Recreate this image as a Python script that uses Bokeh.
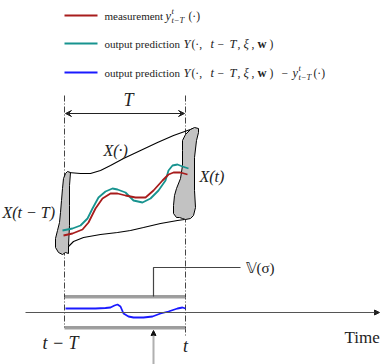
from bokeh.plotting import figure
from bokeh.models import Arrow, VeeHead, NormalHead
from bokeh.core.properties import value
from bokeh.embed import file_html
from bokeh.resources import INLINE

# ---- data (diagram coordinates) ----
meas_x = [63, 72, 82, 88, 95, 102, 110, 117, 125, 135, 145, 153, 162, 168, 173, 180, 187]
meas_y = [235, 233, 229, 222, 208, 198, 193, 193, 195, 197, 197, 190, 180, 174, 172, 172, 174]

pred_x = [62, 72, 80, 87, 92, 98, 105, 112, 117, 125, 133, 142, 150, 158, 165, 168, 172, 177, 182, 188]
pred_y = [230, 228, 225, 218, 208, 197, 191, 188, 189, 192, 200, 202, 198, 190, 180, 170, 165, 164, 166, 168]

err_x = [65, 80, 95, 105, 110, 114, 117, 120, 123, 128, 133, 143, 152, 160, 168, 177, 182, 185]
err_y = [308, 308, 308, 307.5, 307, 305, 304, 306, 313, 316, 317, 317, 316, 313, 311, 308, 307, 308]

tube_up_x = [68, 80, 90, 100, 110, 123, 140, 157, 173, 187, 193]
tube_up_y = [172, 173, 173, 170, 165, 158, 150, 142, 135, 130, 128]
tube_lo_x = [68, 73, 83, 100, 117, 130, 143, 160, 177, 184]
tube_lo_y = [246, 241, 237, 234, 232, 230, 227, 223, 220, 219]

left_set_x = [67, 70, 69, 69, 69, 68, 68, 65, 62, 58, 55, 55, 57, 59, 60, 61, 62, 63, 65]
left_set_y = [171, 172, 185, 205, 225, 245, 253, 252, 254, 252, 247, 238, 230, 222, 212, 200, 188, 178, 173]

right_set_x = [190, 194, 198, 198, 196, 194, 194, 195, 193, 190, 185, 182, 179, 176, 173, 173, 174, 176, 180, 182, 182, 182, 185, 190]
right_set_y = [129, 127, 128, 132, 140, 157, 190, 207, 215, 218, 219, 218, 217, 217, 213, 205, 195, 188, 178, 165, 150, 140, 134, 129]

step_x = [153, 153, 240]
step_y = [296, 267, 267]

t_start, t_end = 64, 185
time_axis_y = 312
bar_top_y, bar_bot_y = 296, 327

RED = "#a81c1c"
TEAL = "#17938f"
BLUE = "#1a1aff"
INK = "#222222"
SERIF = "Liberation Serif"

p = figure(width=381, height=364, x_range=(0, 381), y_range=(364, 0),
           output_backend="svg", toolbar_location=None, min_border=0)
p.axis.visible = False
p.grid.visible = False
p.outline_line_color = None
p.background_fill_color = "white"


def txt(x, y, s, size=11, style="normal", align="left", color=INK, font=SERIF):
    p.text(x=[x], y=[y], text=[s], text_font=value(font), text_font_size=f"{size}px",
           text_font_style=style, text_align=align, text_baseline="middle", text_color=color)


# ---- legend ----
leg_y = [15, 43, 72]
leg_col = [RED, TEAL, BLUE]
for yy, cc in zip(leg_y, leg_col):
    p.line(x=[64, 97], y=[yy, yy], line_color=cc, line_width=2)

# row 1
txt(104, 15, "measurement")
txt(165, 15, "y", 12.5, "italic")
txt(171, 10, "t", 8.5, "italic")
txt(171, 19.5, "t−T", 8.5, "italic")
txt(188, 15, "(·)", 11.5)


def ypred(y):
    txt(104, y, "output prediction")
    txt(183, y, "Y", 12.5, "italic")
    txt(191, y, "(·,", 11.5)
    txt(210, y, "t", 12.5, "italic")
    txt(217, y, "−", 11.5)
    txt(229, y, "T", 12.5, "italic")
    txt(237, y, ",", 11.5)
    txt(243, y, "ξ", 12.5, "italic")
    txt(251, y, ",", 11.5)
    txt(257, y, "w", 12.5, "bold")
    txt(269, y, ")", 11.5)


ypred(43)
ypred(72)
txt(281, 72, "−", 11.5)
txt(292, 72, "y", 12.5, "italic")
txt(298, 67, "t", 8.5, "italic")
txt(298, 76.5, "t−T", 8.5, "italic")
txt(313, 72, "(·)", 11.5)

# ---- dash-dot window lines ----
p.line(x=[t_start, t_start], y=[95, bar_bot_y], line_color="#444", line_width=1, line_dash="6 2 1 2")
p.line(x=[t_end, t_end], y=[95, 336], line_color="#444", line_width=1, line_dash="6 2 1 2")

# T arrow
p.add_layout(Arrow(x_start=t_start + 1, y_start=113, x_end=t_end - 1, y_end=113,
                   line_color=INK, line_width=1,
                   start=VeeHead(size=6, fill_color=INK, line_color=INK),
                   end=VeeHead(size=6, fill_color=INK, line_color=INK)))
txt(128, 99, "T", 18, "italic", "center")

# ---- tube ----
p.line(x=tube_up_x, y=tube_up_y, line_color="black", line_width=1.1)
p.line(x=tube_lo_x, y=tube_lo_y, line_color="black", line_width=1.1)
p.patch(x=left_set_x, y=left_set_y, fill_color="#c2c2c2", line_color="black", line_width=1)
p.patch(x=right_set_x, y=right_set_y, fill_color="#c2c2c2", line_color="black", line_width=1)

p.line(x=pred_x, y=pred_y, line_color=TEAL, line_width=1.8)
p.line(x=meas_x, y=meas_y, line_color=RED, line_width=1.8)

txt(103, 150, "X(·)", 16, "italic")
txt(199, 176, "X(t)", 16, "italic")
txt(2, 212, "X(t − T)", 16, "italic")

# ---- constraint step V(sigma) ----
p.line(x=step_x, y=step_y, line_color="#444", line_width=1.2)
txt(245, 267, "𝕍(σ)", 15)

# bars
for by in (bar_top_y, bar_bot_y):
    p.line(x=[t_start, t_end], y=[by - 0.5, by - 0.5], line_color="#3a3a3a", line_width=1)
    p.line(x=[t_start, t_end], y=[by + 1.2, by + 1.2], line_color="#a0a0a0", line_width=1.6)

# error curve
p.line(x=err_x, y=err_y, line_color=BLUE, line_width=1.8)

# time axis
p.add_layout(Arrow(x_start=25, y_start=time_axis_y, x_end=379, y_end=time_axis_y,
                   line_color="#555", line_width=1,
                   end=NormalHead(size=5, fill_color="#222", line_color="#222")))
txt(344, 337, "Time", 17)
txt(60, 342, "t − T", 18, "italic", "center")
txt(185, 345, "t", 18, "italic", "center")

# up arrow
p.add_layout(Arrow(x_start=153, y_start=364, x_end=153, y_end=330,
                   line_color="#b0b0b0", line_width=2,
                   end=NormalHead(size=5, fill_color="#111", line_color="#111")))

open("out.html", "w").write(file_html(p, INLINE))
